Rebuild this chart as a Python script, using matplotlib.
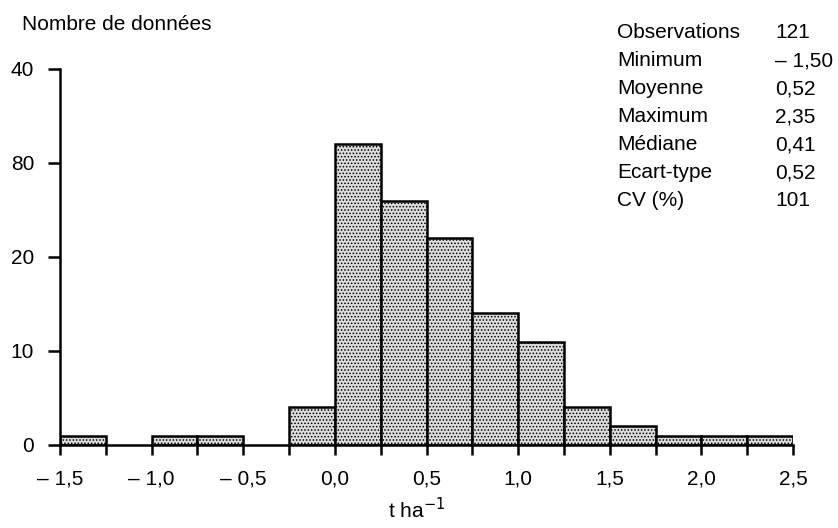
import matplotlib
matplotlib.use("Agg")
import matplotlib.pyplot as plt
import numpy as np

plt.rcParams['font.family'] = ['Liberation Sans', 'DejaVu Sans']
plt.rcParams['hatch.color'] = '#333333'
plt.rcParams['hatch.linewidth'] = 0.7

# Histogram data (bin edges in t/ha, counts)
bin_left = [-1.5, -1.25, -1.0, -0.75, -0.5, -0.25, 0.0, 0.25, 0.5, 0.75,
            1.0, 1.25, 1.5, 1.75, 2.0, 2.25]
bin_width = 0.25
counts = [1, 0, 1, 1, 0, 4, 32, 26, 22, 14, 11, 4, 2, 1, 1, 1]

y_ticks = [0, 10, 20, 30, 40]
y_ticklabels = ["0", "10", "20", "80", "40"]
x_label_ticks = [-1.5, -1.0, -0.5, 0.0, 0.5, 1.0, 1.5, 2.0, 2.5]
x_ticklabels = ["\u2013 1,5", "\u2013 1,0", "\u2013 0,5", "0,0", "0,5", "1,0", "1,5", "2,0", "2,5"]

stat_names = ["Observations", "Minimum", "Moyenne", "Maximum", "Médiane", "Ecart-type", "CV (%)"]
stat_values = ["121", "\u2013 1,50", "0,52", "2,35", "0,41", "0,52", "101"]

FS = 15
W, H = 838, 528
fig = plt.figure(figsize=(W / 100, H / 100), dpi=100)
ax = fig.add_axes([60 / W, 1 - 445 / H, (793 - 60) / W, (445 - 69) / H])

for x0, c in zip(bin_left, counts):
    if c > 0:
        ax.bar(x0, c, width=bin_width, align='edge', facecolor='#dcdcdc',
               edgecolor='black', linewidth=1.8, hatch='.....', zorder=2)

ax.set_xlim(-1.5, 2.5)
ax.set_ylim(0, 40)
for s in ['top', 'right']:
    ax.spines[s].set_visible(False)
for s in ['left', 'bottom']:
    ax.spines[s].set_linewidth(1.8)

ticks = np.arange(-1.5, 2.51, 0.25)
ax.set_yticks(y_ticks)
ax.set_yticklabels(y_ticklabels)
ax.set_xticks(ticks)
ax.set_xticklabels([x_ticklabels[x_label_ticks.index(v)] if v in x_label_ticks else ""
                    for v in [round(t, 2) for t in ticks]])
ax.tick_params(axis='y', direction='out', length=8.6, width=1.8, pad=10, labelsize=FS)
ax.tick_params(axis='x', direction='out', length=7.5, width=1.8, pad=10, labelsize=FS)

fig.text(22 / W, 1 - 25 / H, "Nombre de données", fontsize=FS, va='center', ha='left')
fig.text(417 / W, 1 - 510 / H, "t ha$^{-1}$", fontsize=FS, va='center', ha='center')

for i, (n, v) in enumerate(zip(stat_names, stat_values)):
    y = 1 - (33 + 28 * i) / H
    fig.text(617 / W, y, n, fontsize=FS, va='center', ha='left')
    fig.text(775 / W, y, v, fontsize=FS, va='center', ha='left')

fig.savefig("out.png", dpi=100)
